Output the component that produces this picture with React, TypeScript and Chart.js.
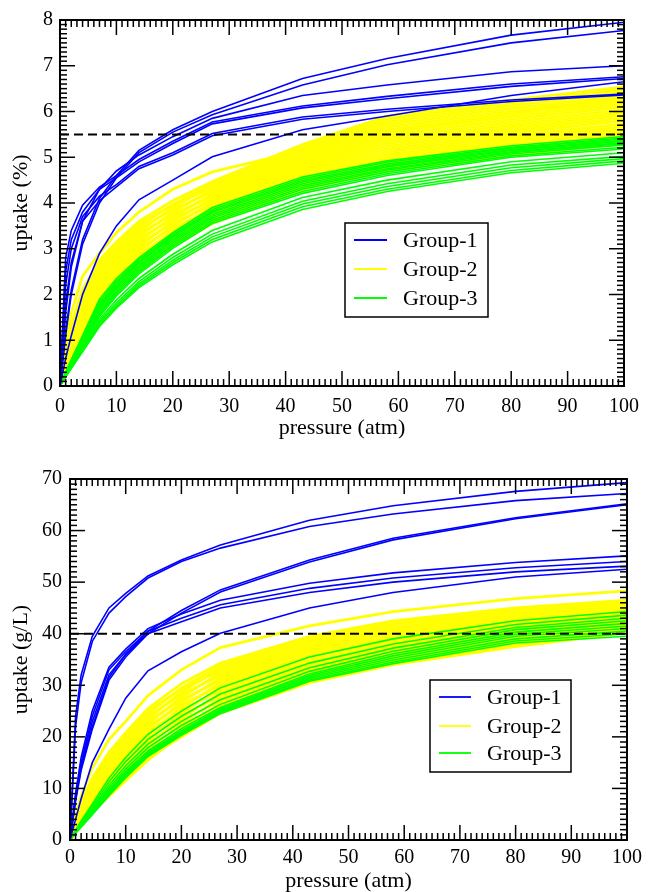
import React, { useEffect, useRef } from 'react';
import { Chart, registerables } from 'chart.js';

Chart.register(...registerables);

// ---------- data ----------
const PRESSURE = [0, 1, 2, 4, 7, 10, 14, 20, 27, 43, 58, 80, 100];
const SERIES_NAMES = ['Group-1', 'Group-2', 'Group-3'];
const SERIES_COLORS = ['#0000ff', '#ffff00', '#00ff00'];
const TOP_THRESHOLD = 5.5;
const BOTTOM_THRESHOLD = 40;

// uptake (%) — Group-1
const TOP_GROUP1 = [
  [0, 1.2, 2.1, 3.2, 4.1, 4.6, 5.15, 5.6, 6.0, 6.72, 7.16, 7.67, 7.95],
  [0, 1.1, 2.0, 3.1, 4.0, 4.55, 5.1, 5.55, 5.93, 6.58, 7.02, 7.5, 7.77],
  [0, 1.6, 2.6, 3.6, 4.3, 4.7, 5.05, 5.45, 5.85, 6.35, 6.58, 6.87, 7.0],
  [0, 2.8, 3.4, 3.95, 4.35, 4.6, 4.95, 5.35, 5.77, 6.12, 6.33, 6.6, 6.76],
  [0, 2.5, 3.2, 3.8, 4.3, 4.55, 4.9, 5.3, 5.73, 6.08, 6.28, 6.55, 6.72],
  [0, 2.2, 3.0, 3.7, 4.15, 4.4, 4.8, 5.1, 5.52, 5.88, 6.05, 6.25, 6.38],
  [0, 1.8, 2.7, 3.6, 4.05, 4.35, 4.75, 5.05, 5.47, 5.83, 6.0, 6.22, 6.36],
  [0, 0.6, 1.1, 2.0, 2.9, 3.5, 4.07, 4.5, 5.01, 5.6, 5.9, 6.35, 6.65],
];

// uptake (%) — Group-2
const TOP_GROUP2 = [
  [0, 0.9, 1.6, 2.4, 2.9, 3.35, 3.8, 4.3, 4.68, 5.15, 5.55, 5.95, 6.3],
  [0, 0.75, 1.35, 2.1, 2.75, 3.15, 3.6, 4.05, 4.47, 5.28, 5.9, 6.25, 6.54],
  [0, 0.71, 1.28, 2.0, 2.65, 3.05, 3.49, 3.97, 4.42, 5.23, 5.84, 6.19, 6.48],
  [0, 0.73, 1.31, 2.05, 2.7, 3.1, 3.55, 3.95, 4.33, 5.13, 5.72, 6.07, 6.35],
  [0, 0.67, 1.21, 1.9, 2.54, 2.94, 3.38, 3.9, 4.38, 5.18, 5.78, 6.13, 6.42],
  [0, 0.69, 1.25, 1.95, 2.59, 2.99, 3.44, 3.85, 4.24, 5.04, 5.6, 5.95, 6.23],
  [0, 0.63, 1.14, 1.8, 2.44, 2.84, 3.27, 3.8, 4.29, 5.08, 5.66, 6.01, 6.29],
  [0, 0.65, 1.18, 1.85, 2.49, 2.89, 3.33, 3.75, 4.15, 4.94, 5.48, 5.83, 6.11],
  [0, 0.59, 1.07, 1.7, 2.33, 2.73, 3.16, 3.7, 4.19, 4.99, 5.54, 5.89, 6.17],
  [0, 0.61, 1.11, 1.75, 2.38, 2.78, 3.22, 3.65, 4.06, 4.84, 5.36, 5.71, 5.98],
  [0, 0.55, 1.0, 1.6, 2.23, 2.63, 3.05, 3.6, 4.1, 4.89, 5.42, 5.77, 6.04],
  [0, 0.57, 1.04, 1.65, 2.28, 2.68, 3.11, 3.55, 3.96, 4.74, 5.24, 5.59, 5.86],
  [0, 0.51, 0.93, 1.5, 2.12, 2.52, 2.94, 3.5, 4.01, 4.79, 5.3, 5.65, 5.92],
  [0, 0.53, 0.97, 1.55, 2.17, 2.57, 3.0, 3.45, 3.87, 4.64, 5.12, 5.47, 5.73],
  [0, 0.47, 0.86, 1.4, 2.02, 2.42, 2.83, 3.4, 3.92, 4.69, 5.18, 5.53, 5.8],
  [0, 0.49, 0.9, 1.45, 2.07, 2.47, 2.89, 3.35, 3.78, 4.55, 5.0, 5.35, 5.61],
  [0, 0.43, 0.79, 1.3, 1.91, 2.31, 2.72, 3.3, 3.83, 4.59, 5.06, 5.41, 5.67],
  [0, 0.45, 0.83, 1.35, 1.96, 2.36, 2.78, 3.25, 3.69, 4.45, 4.88, 5.23, 5.49],
  [0, 0.39, 0.72, 1.2, 1.81, 2.21, 2.61, 3.2, 3.73, 4.5, 4.94, 5.29, 5.55],
  [0, 0.41, 0.76, 1.25, 1.86, 2.26, 2.67, 3.15, 3.6, 4.35, 4.76, 5.11, 5.36],
  [0, 0.35, 0.65, 1.1, 1.7, 2.1, 2.5, 3.1, 3.64, 4.4, 4.82, 5.17, 5.42],
  [0, 0.37, 0.69, 1.15, 1.75, 2.15, 2.56, 3.05, 3.55, 4.3, 4.7, 5.05, 5.3],
];

// uptake (%) — Group-3
const TOP_GROUP3 = [
  [0, 0.3, 0.58, 1.1, 1.9, 2.35, 2.8, 3.35, 3.9, 4.57, 4.92, 5.25, 5.45],
  [0, 0.29, 0.56, 1.07, 1.85, 2.3, 2.76, 3.31, 3.86, 4.53, 4.89, 5.22, 5.42],
  [0, 0.28, 0.55, 1.05, 1.8, 2.26, 2.72, 3.28, 3.82, 4.49, 4.85, 5.2, 5.4],
  [0, 0.28, 0.54, 1.02, 1.76, 2.22, 2.69, 3.25, 3.79, 4.46, 4.82, 5.17, 5.37],
  [0, 0.27, 0.52, 1.0, 1.72, 2.18, 2.65, 3.21, 3.75, 4.42, 4.79, 5.15, 5.35],
  [0, 0.26, 0.51, 0.97, 1.68, 2.14, 2.61, 3.17, 3.71, 4.38, 4.75, 5.12, 5.32],
  [0, 0.25, 0.49, 0.94, 1.63, 2.09, 2.57, 3.13, 3.67, 4.34, 4.72, 5.1, 5.3],
  [0, 0.25, 0.48, 0.92, 1.6, 2.05, 2.53, 3.09, 3.63, 4.3, 4.68, 5.07, 5.27],
  [0, 0.24, 0.47, 0.9, 1.56, 2.01, 2.49, 3.05, 3.59, 4.25, 4.64, 5.03, 5.22],
  [0, 0.23, 0.45, 0.87, 1.52, 1.97, 2.45, 3.01, 3.55, 4.21, 4.6, 5.0, 5.18],
  [0, 0.22, 0.43, 0.84, 1.46, 1.88, 2.35, 2.88, 3.4, 4.12, 4.5, 4.9, 5.1],
  [0, 0.21, 0.41, 0.81, 1.41, 1.82, 2.28, 2.81, 3.32, 4.04, 4.42, 4.83, 5.02],
  [0, 0.21, 0.4, 0.79, 1.37, 1.77, 2.23, 2.75, 3.26, 3.98, 4.36, 4.77, 4.97],
  [0, 0.2, 0.39, 0.77, 1.33, 1.73, 2.19, 2.7, 3.2, 3.92, 4.3, 4.71, 4.92],
  [0, 0.2, 0.38, 0.75, 1.3, 1.7, 2.15, 2.65, 3.15, 3.86, 4.25, 4.66, 4.87],
];

// uptake (g/L) — Group-1
const BOTTOM_GROUP1 = [
  [0, 24, 32, 39.5, 45, 47.8, 51.2, 54.3, 57.2, 62.0, 64.8, 67.6, 69.3],
  [0, 22, 30.5, 38.5, 44, 47.2, 50.8, 54.0, 56.6, 60.8, 63.2, 65.8, 67.2],
  [0, 8, 14, 22, 31.5, 36, 40.5, 44.5, 48.5, 54.3, 58.5, 62.5, 65.2],
  [0, 7.5, 13.5, 21.5, 31, 35.5, 40, 44, 48.1, 53.9, 58.2, 62.3, 65.0],
  [0, 9, 16, 25, 33.5, 37, 41, 43.8, 46.5, 49.8, 51.8, 53.8, 55.1],
  [0, 8.5, 15, 24, 33, 36.5, 40.5, 43, 45.6, 48.8, 50.8, 52.8, 54.0],
  [0, 8, 14.5, 23, 32, 36, 40, 42.3, 45.0, 48.0, 50.0, 52.0, 53.1],
  [0, 4, 8, 15, 21.5, 27.5, 32.8, 36.5, 40.1, 45.0, 48.0, 51.0, 52.5],
];

// uptake (g/L) — Group-2
const BOTTOM_GROUP2 = [
  [0, 4.8, 8.5, 14.0, 19.5, 23.0, 28.0, 33.0, 37.3, 41.5, 44.3, 46.8, 48.3],
  [0, 4.0, 7.2, 12.0, 17.0, 20.8, 25.5, 30.3, 34.3, 39.5, 42.5, 45.0, 46.5],
  [0, 3.8, 6.8, 11.4, 16.2, 19.9, 24.5, 29.5, 33.8, 39.1, 42.1, 44.6, 46.2],
  [0, 3.9, 7.0, 11.7, 16.6, 20.3, 25.0, 29.3, 32.8, 38.2, 41.2, 43.9, 45.6],
  [0, 3.5, 6.4, 10.7, 15.3, 18.9, 23.5, 28.7, 33.3, 38.6, 41.7, 44.3, 45.9],
  [0, 3.6, 6.6, 11.0, 15.7, 19.4, 24.0, 28.2, 31.9, 37.3, 40.4, 43.1, 44.9],
  [0, 3.3, 5.9, 10.1, 14.5, 18.0, 22.5, 27.7, 32.4, 37.7, 40.8, 43.5, 45.2],
  [0, 3.4, 6.2, 10.4, 14.9, 18.5, 23.0, 27.2, 30.9, 36.4, 39.5, 42.4, 44.3],
  [0, 3.0, 5.5, 9.4, 13.6, 17.1, 21.5, 26.7, 31.4, 36.8, 40.0, 42.8, 44.6],
  [0, 3.1, 5.7, 9.7, 14.0, 17.5, 22.0, 26.2, 29.9, 35.5, 38.7, 41.6, 43.7],
  [0, 2.8, 5.1, 8.8, 12.8, 16.2, 20.5, 25.7, 30.4, 35.9, 39.1, 42.0, 44.0],
  [0, 2.9, 5.3, 9.1, 13.2, 16.6, 21.0, 25.2, 29.0, 34.6, 37.8, 40.9, 43.0],
  [0, 2.5, 4.7, 8.1, 11.9, 15.2, 19.5, 24.6, 29.5, 35.0, 38.3, 41.3, 43.4],
  [0, 2.6, 4.9, 8.4, 12.3, 15.7, 20.0, 24.1, 28.0, 33.7, 37.0, 40.1, 42.4],
  [0, 2.3, 4.3, 7.5, 11.1, 14.3, 18.5, 23.6, 28.5, 34.1, 37.4, 40.5, 42.7],
  [0, 2.4, 4.5, 7.8, 11.5, 14.8, 19.0, 23.1, 27.0, 32.8, 36.1, 39.4, 41.8],
  [0, 2.0, 3.8, 6.8, 10.2, 13.4, 17.5, 22.6, 27.5, 33.2, 36.6, 39.8, 42.1],
  [0, 2.1, 4.1, 7.1, 10.6, 13.8, 18.0, 22.1, 26.0, 31.9, 35.3, 38.6, 41.1],
  [0, 1.8, 3.4, 6.2, 9.4, 12.4, 16.5, 21.5, 26.5, 32.3, 35.7, 39.0, 41.5],
  [0, 1.9, 3.6, 6.5, 9.8, 12.9, 17.0, 21.0, 25.1, 31.0, 34.4, 37.9, 40.5],
  [0, 1.5, 3.0, 5.5, 8.5, 11.5, 15.5, 20.5, 25.6, 31.4, 34.9, 38.3, 40.8],
  [0, 1.6, 3.2, 5.8, 8.9, 12.0, 16.0, 20.0, 24.6, 30.5, 34.0, 37.5, 40.2],
];

// uptake (g/L) — Group-3
const BOTTOM_GROUP3 = [
  [0, 1.9, 3.7, 7.0, 12.0, 16.0, 20.5, 25.0, 29.5, 35.5, 39.0, 42.5, 44.3],
  [0, 1.8, 3.5, 6.6, 11.3, 15.2, 19.5, 24.0, 28.3, 34.3, 38.0, 41.8, 43.6],
  [0, 1.7, 3.3, 6.2, 10.6, 14.4, 18.6, 23.0, 27.2, 33.4, 37.2, 41.2, 43.0],
  [0, 1.6, 3.1, 5.9, 10.1, 13.8, 17.9, 22.2, 26.3, 32.7, 36.6, 40.8, 42.5],
  [0, 1.5, 2.9, 5.6, 9.7, 13.3, 17.3, 21.6, 25.7, 32.2, 36.1, 40.3, 42.0],
  [0, 1.5, 2.8, 5.4, 9.4, 13.0, 17.0, 21.2, 25.4, 31.9, 35.7, 39.9, 41.5],
  [0, 1.4, 2.7, 5.3, 9.2, 12.7, 16.8, 20.9, 25.1, 31.6, 35.3, 39.5, 41.0],
  [0, 1.4, 2.7, 5.2, 9.0, 12.5, 16.6, 20.7, 24.9, 31.3, 34.9, 39.0, 40.5],
  [0, 1.3, 2.6, 5.0, 8.8, 12.3, 16.4, 20.5, 24.7, 31.0, 34.5, 38.6, 40.0],
  [0, 1.3, 2.5, 4.9, 8.6, 12.1, 16.2, 20.3, 24.5, 30.8, 34.2, 38.2, 39.5],
];

// ---------- styling ----------
const FONT = '"Liberation Serif", "Times New Roman", Times, serif';

type Panel = {
  groups: number[][][];
  threshold: number;
  yMax: number;
  yStep: number;
  yMinorPerMajor: number;
  yTitle: string;
  yAxisWidth: number;
  yTickPad: number;
  padTop: number;
  xAxisHeight: number;
  xTickPad: number;
  xTitlePad: number;
  legend: { x: number; y: number; w: number; h: number; l0: number; l1: number; tx: number; rows: number[] };
};

const frameTicks = {
  id: 'frameTicks',
  afterDraw(chart: any, _args: any, opts: any) {
    const { ctx, chartArea } = chart;
    const { left, right, top, bottom } = chartArea;
    const xs = chart.scales.x;
    const ys = chart.scales.y;
    ctx.save();
    ctx.strokeStyle = '#000';
    ctx.lineWidth = 1.5;
    const seg = (x0: number, y0: number, x1: number, y1: number) => {
      ctx.beginPath();
      ctx.moveTo(x0, y0);
      ctx.lineTo(x1, y1);
      ctx.stroke();
    };
    const xt = xs.ticks.map((t: any) => t.value);
    const xStep = xt[1] - xt[0];
    const xn = Math.round((xs.max - xs.min) / xStep) * opts.xMinor;
    for (let i = 0; i <= xn; i++) {
      const v = xs.min + (i * xStep) / opts.xMinor;
      const len = i % opts.xMinor === 0 ? opts.major : opts.minor;
      const px = xs.getPixelForValue(v);
      seg(px, bottom, px, bottom - len);
      seg(px, top, px, top + len);
    }
    const yt = ys.ticks.map((t: any) => t.value);
    const yStep = yt[1] - yt[0];
    const yn = Math.round((ys.max - ys.min) / yStep) * opts.yMinor;
    for (let i = 0; i <= yn; i++) {
      const v = ys.min + (i * yStep) / opts.yMinor;
      const len = i % opts.yMinor === 0 ? opts.major : opts.minor;
      const py = ys.getPixelForValue(v);
      seg(left, py, left + len, py);
      seg(right, py, right - len, py);
    }
    ctx.lineWidth = 2;
    ctx.strokeRect(left, top, right - left, bottom - top);
    ctx.restore();
  },
};

const boxLegend = {
  id: 'boxLegend',
  afterDraw(chart: any, _args: any, opts: any) {
    const { ctx } = chart;
    const L = opts.box;
    if (!L) return;
    ctx.save();
    ctx.fillStyle = '#fff';
    ctx.fillRect(L.x, L.y, L.w, L.h);
    ctx.strokeStyle = '#000';
    ctx.lineWidth = 1.5;
    ctx.strokeRect(L.x, L.y, L.w, L.h);
    ctx.font = `22px ${FONT}`;
    ctx.textBaseline = 'middle';
    ctx.textAlign = 'left';
    SERIES_NAMES.forEach((name, i) => {
      const y = L.rows[i];
      ctx.strokeStyle = SERIES_COLORS[i];
      ctx.lineWidth = 1.8;
      ctx.beginPath();
      ctx.moveTo(L.l0, y);
      ctx.lineTo(L.l1, y);
      ctx.stroke();
      ctx.fillStyle = '#000';
      ctx.fillText(name, L.tx, y + 1);
    });
    ctx.restore();
  },
};

function buildConfig(p: Panel): any {
  const datasets: any[] = [];
  const widths = [1.6, 2.8, 1.6];
  const orders = [1, 3, 2];
  p.groups.forEach((group, gi) => {
    group.forEach((values) => {
      datasets.push({
        label: SERIES_NAMES[gi],
        data: PRESSURE.map((x, i) => ({ x, y: values[i] })),
        borderColor: SERIES_COLORS[gi],
        borderWidth: widths[gi],
        pointRadius: 0,
        tension: 0,
        fill: false,
        order: orders[gi],
      });
    });
  });
  datasets.push({
    label: 'threshold',
    data: [
      { x: PRESSURE[0], y: p.threshold },
      { x: PRESSURE[PRESSURE.length - 1], y: p.threshold },
    ],
    borderColor: '#000',
    borderWidth: 2,
    borderDash: [9, 5],
    pointRadius: 0,
    order: 0,
  });

  return {
    type: 'line',
    data: { datasets },
    options: {
      responsive: false,
      animation: false,
      devicePixelRatio: 1,
      layout: { padding: { top: p.padTop, right: 18, left: 0, bottom: 0 } },
      plugins: {
        legend: { display: false },
        tooltip: { enabled: false },
        frameTicks: { xMinor: 10, yMinor: p.yMinorPerMajor, major: 15, minor: 7 },
        boxLegend: { box: p.legend },
      },
      scales: {
        x: {
          type: 'linear',
          min: 0,
          max: 100,
          grid: { display: false, drawTicks: false },
          border: { display: false },
          ticks: { stepSize: 10, color: '#000', padding: p.xTickPad, font: { family: FONT, size: 20 }, maxRotation: 0 },
          title: {
            display: true,
            text: 'pressure (atm)',
            color: '#000',
            font: { family: FONT, size: 22, lineHeight: 1 },
            padding: { top: 0, bottom: p.xTitlePad },
          },
          afterFit: (s: any) => {
            s.height = p.xAxisHeight;
          },
        },
        y: {
          type: 'linear',
          min: 0,
          max: p.yMax,
          grid: { display: false, drawTicks: false },
          border: { display: false },
          ticks: { stepSize: p.yStep, color: '#000', padding: p.yTickPad, font: { family: FONT, size: 20 } },
          title: {
            display: true,
            text: p.yTitle,
            color: '#000',
            font: { family: FONT, size: 22, lineHeight: 1 },
            padding: { top: 10, bottom: 0 },
          },
          afterFit: (s: any) => {
            s.width = p.yAxisWidth;
          },
        },
      },
    },
    plugins: [frameTicks, boxLegend],
  };
}

const TOP_PANEL: Panel = {
  groups: [TOP_GROUP1, TOP_GROUP2, TOP_GROUP3],
  threshold: TOP_THRESHOLD,
  yMax: 8,
  yStep: 1,
  yMinorPerMajor: 10,
  yTitle: 'uptake (%)',
  yAxisWidth: 60,
  yTickPad: 7,
  padTop: 20,
  xAxisHeight: 60,
  xTickPad: 9,
  xTitlePad: 7,
  legend: { x: 345, y: 223, w: 143, h: 94, l0: 354, l1: 387, tx: 403, rows: [240, 269, 298] },
};

const BOTTOM_PANEL: Panel = {
  groups: [BOTTOM_GROUP1, BOTTOM_GROUP2, BOTTOM_GROUP3],
  threshold: BOTTOM_THRESHOLD,
  yMax: 70,
  yStep: 10,
  yMinorPerMajor: 10,
  yTitle: 'uptake (g/L)',
  yAxisWidth: 70,
  yTickPad: 8,
  padTop: 33,
  xAxisHeight: 52,
  xTickPad: 6,
  xTitlePad: 0,
  legend: { x: 430, y: 234, w: 141, h: 92, l0: 439, l1: 471, tx: 487, rows: [251, 280, 307] },
};

function PanelChart({ panel }: { panel: Panel }) {
  const ref = useRef<HTMLCanvasElement | null>(null);
  useEffect(() => {
    if (!ref.current) return;
    const chart = new Chart(ref.current, buildConfig(panel));
    return () => chart.destroy();
  }, [panel]);
  return <canvas ref={ref} width={648} height={446} style={{ display: 'block', width: 648, height: 446 }} />;
}

export default function App() {
  return (
    <div style={{ position: 'absolute', left: 0, top: 0, width: 648, height: 892, background: '#fff' }}>
      <PanelChart panel={TOP_PANEL} />
      <PanelChart panel={BOTTOM_PANEL} />
    </div>
  );
}
